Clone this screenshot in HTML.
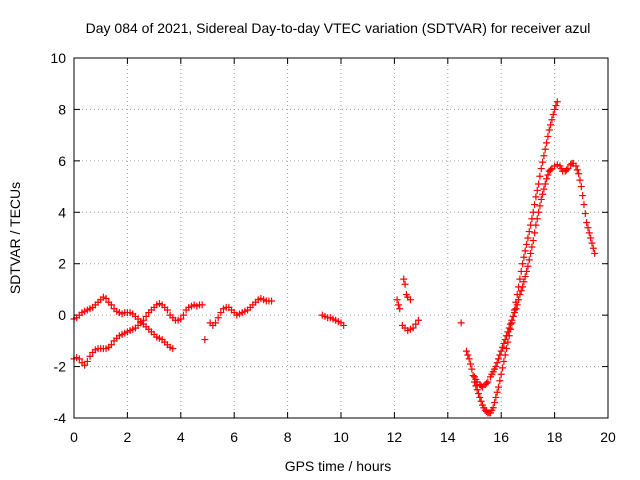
<!DOCTYPE html>
<html><head><meta charset="utf-8"><style>
body{margin:0;background:#fff}
svg{display:block;font-family:"Liberation Sans",sans-serif}
</style></head><body>
<svg id="c" width="640" height="480">
<text x="338" y="33" text-anchor="middle" font-size="14">Day 084 of 2021, Sidereal Day-to-day VTEC variation (SDTVAR) for receiver azul</text>
<text x="338" y="471" text-anchor="middle" font-size="14">GPS time / hours</text>
<text x="20" y="238" text-anchor="middle" font-size="14" transform="rotate(-90 20 238)">SDTVAR / TECUs</text>
<g id="grid"></g><g id="ticks"></g><g id="marks"></g>
<rect x="74" y="58" width="534" height="360" fill="none" stroke="#000" stroke-width="1"/>
</svg>
<script>
const xTicks=[0,2,4,6,8,10,12,14,16,18,20];
const yTicks=[-4,-2,0,2,4,6,8,10];
const branchA=[[0,-0.15],[0.1,-0.1],[0.2,0],[0.3,0.1],[0.4,0.15],[0.5,0.2],[0.6,0.25],[0.7,0.3],[0.8,0.4],[0.9,0.5],[1.0,0.6],[1.1,0.7],[1.2,0.65],[1.3,0.5],[1.4,0.4],[1.5,0.25],[1.6,0.15],[1.7,0.1],[1.8,0.05],[1.9,0.1],[2.0,0.1],[2.1,0.1],[2.2,0.05],[2.3,-0.05],[2.4,-0.15],[2.5,-0.25],[2.6,-0.35],[2.7,-0.45],[2.8,-0.55],[2.9,-0.65],[3.0,-0.75],[3.1,-0.85],[3.2,-0.9],[3.3,-0.95],[3.4,-1.05],[3.5,-1.15],[3.6,-1.25],[3.7,-1.3]];
const branchB=[[0,-1.7],[0.1,-1.65],[0.2,-1.7],[0.3,-1.85],[0.4,-1.95],[0.5,-1.8],[0.6,-1.6],[0.7,-1.45],[0.8,-1.35],[0.9,-1.3],[1.0,-1.3],[1.1,-1.3],[1.2,-1.3],[1.3,-1.25],[1.4,-1.15],[1.5,-1.0],[1.6,-0.9],[1.7,-0.8],[1.8,-0.75],[1.9,-0.7],[2.0,-0.65],[2.1,-0.6],[2.2,-0.55],[2.3,-0.5],[2.4,-0.4],[2.5,-0.3],[2.6,-0.2],[2.7,-0.05],[2.8,0.1],[2.9,0.2],[3.0,0.3],[3.1,0.4],[3.2,0.45],[3.3,0.4],[3.4,0.3],[3.5,0.2],[3.6,0],[3.7,-0.1],[3.8,-0.2],[3.9,-0.2],[4.0,-0.15],[4.1,0],[4.2,0.2],[4.3,0.3],[4.4,0.35],[4.5,0.4],[4.6,0.35],[4.7,0.4],[4.8,0.4],[4.9,-0.95]];
const branchC=[[5.1,-0.3],[5.2,-0.4],[5.3,-0.3],[5.4,-0.1],[5.5,0.1],[5.6,0.25],[5.7,0.3],[5.8,0.3],[5.9,0.2],[6.0,0.1],[6.1,0],[6.2,0.05],[6.3,0.1],[6.4,0.15],[6.5,0.2],[6.6,0.3],[6.7,0.4],[6.8,0.5],[6.9,0.6],[7.0,0.65],[7.1,0.6],[7.2,0.55],[7.3,0.55],[7.4,0.55]];
const branchD=[[9.3,0],[9.4,-0.05],[9.5,-0.1],[9.6,-0.1],[9.7,-0.15],[9.8,-0.2],[9.9,-0.25],[10.0,-0.3],[10.1,-0.4]];
const branchE=[[12.1,0.6],[12.15,0.4],[12.2,0.25],[12.35,1.4],[12.4,1.2],[12.45,0.8],[12.5,0.7],[12.6,0.6],[12.3,-0.4],[12.4,-0.5],[12.5,-0.6],[12.6,-0.55],[12.7,-0.5],[12.8,-0.35],[12.9,-0.2],[14.5,-0.3]];
const branchH=[[14.7,-1.4],[14.8,-1.7],[14.9,-2.1],[15.0,-2.6],[15.1,-2.9],[15.2,-3.2],[15.3,-3.5],[15.4,-3.7],[15.5,-3.8],[15.6,-3.8],[15.7,-3.6],[15.8,-3.2],[15.9,-2.8],[16.0,-2.3],[16.1,-1.8],[16.2,-1.3],[16.3,-0.8],[16.4,-0.3],[16.5,0.2],[16.6,0.8],[16.7,1.4],[16.8,2.0],[16.9,2.5],[17.0,3.0],[17.1,3.5],[17.2,4.0],[17.3,4.6],[17.4,5.1],[17.5,5.7],[17.6,6.2],[17.7,6.7],[17.8,7.2],[17.9,7.6],[18.0,8.0],[18.1,8.3]];
const branchH2=[[14.75,-1.55],[14.85,-1.9],[14.95,-2.35],[15.05,-2.75],[15.15,-3.05],[15.25,-3.35],[15.35,-3.6],[15.45,-3.75],[15.55,-3.8],[15.65,-3.7],[15.75,-3.4],[15.85,-3.0],[15.95,-2.55],[16.05,-2.05],[16.15,-1.55],[16.25,-1.05],[16.35,-0.55],[16.45,-0.05],[16.55,0.5],[16.65,1.1],[16.75,1.7],[16.85,2.25],[16.95,2.75],[17.05,3.25],[17.15,3.75],[17.25,4.3],[17.35,4.85],[17.45,5.4],[17.55,5.95],[17.65,6.45],[17.75,6.95],[17.85,7.4],[17.95,7.8],[18.05,8.15]];
const branchI=[[15.0,-2.4],[15.1,-2.6],[15.2,-2.7],[15.3,-2.8],[15.4,-2.7],[15.5,-2.6],[15.6,-2.4],[15.7,-2.2],[15.8,-2.0],[15.9,-1.7],[16.0,-1.4],[16.1,-1.1],[16.2,-0.8],[16.3,-0.5],[16.4,-0.2],[16.5,0.1],[16.6,0.4],[16.7,0.8],[16.8,1.1],[16.9,1.5],[17.0,1.9],[17.1,2.4],[17.2,2.9],[17.3,3.5],[17.4,4.0],[17.5,4.5],[17.6,4.9],[17.7,5.3],[17.8,5.6],[17.9,5.7],[18.0,5.8],[18.1,5.85],[18.2,5.8],[18.3,5.6],[18.4,5.6],[18.5,5.7],[18.6,5.85],[18.7,5.9],[18.8,5.8],[18.9,5.5],[19.0,5.0],[19.1,4.3],[19.2,3.6],[19.3,3.2],[19.4,2.8],[19.5,2.4]];
const branchI2=[[15.05,-2.5],[15.25,-2.75],[15.45,-2.65],[15.65,-2.3],[15.75,-2.1],[15.85,-1.85],[15.95,-1.55],[16.05,-1.25],[16.15,-0.95],[16.25,-0.65],[16.35,-0.35],[16.45,-0.05],[16.55,0.25],[16.65,0.6],[16.75,0.95],[16.85,1.3],[16.95,1.7],[17.05,2.15],[17.15,2.65],[17.25,3.2],[17.35,3.75],[17.45,4.25],[17.55,4.7],[17.65,5.1],[17.75,5.45],[17.85,5.65],[18.25,5.7],[18.45,5.65],[18.65,5.9],[18.85,5.65],[18.95,5.25],[19.05,4.65],[19.15,3.95],[19.25,3.4],[19.35,3.0],[19.45,2.6]];

const X0=74,X1=608,Y0=418,Y1=58;
const sx=v=>X0+(v-0)/20*(X1-X0);
const sy=v=>Y0-(v+4)/14*(Y0-Y1);
const NS="http://www.w3.org/2000/svg";
function mk(tag,attrs,parent){const e=document.createElementNS(NS,tag);for(const k in attrs)e.setAttribute(k,attrs[k]);parent.appendChild(e);return e;}
const grid=document.getElementById('grid'),ticks=document.getElementById('ticks'),marks=document.getElementById('marks');
xTicks.forEach(t=>{const x=sx(t);
 if(t>0&&t<20){const g=mk('line',{x1:x,x2:x,y1:Y0,y2:Y1,stroke:'#a0a0a0','stroke-dasharray':'1,3'},grid);
 
 }
 mk('line',{x1:x,x2:x,y1:Y0,y2:Y0-6,stroke:'#000'},ticks);mk('line',{x1:x,x2:x,y1:Y1,y2:Y1+6,stroke:'#000'},ticks);
 const l=mk('text',{x:x,y:Y0+24,'text-anchor':'middle','font-size':14},ticks);l.textContent=t;
 
 });
yTicks.forEach(t=>{const y=sy(t);
 if(t>-4&&t<10){const g=mk('line',{x1:X0,x2:X1,y1:y,y2:y,stroke:'#a0a0a0','stroke-dasharray':'1,3'},grid);
 
 }
 mk('line',{x1:X0,x2:X0+6,y1:y,y2:y,stroke:'#000'},ticks);mk('line',{x1:X1,x2:X1-6,y1:y,y2:y,stroke:'#000'},ticks);
 const l=mk('text',{x:X0-8,y:y+5,'text-anchor':'end','font-size':14},ticks);l.textContent=t;
 
 });
[branchA,branchB,branchC,branchD,branchE,branchH,branchH2,branchI,branchI2].forEach(s=>s.forEach(p=>{
 const x=sx(p[0]),y=sy(p[1]);
 const m=mk('path',{d:`M${x-3.5},${y}h7M${x},${y-3.5}v7`,stroke:'#f00','stroke-width':1.2,fill:'none'},marks);
 
 
}));
</script>
</body></html>
